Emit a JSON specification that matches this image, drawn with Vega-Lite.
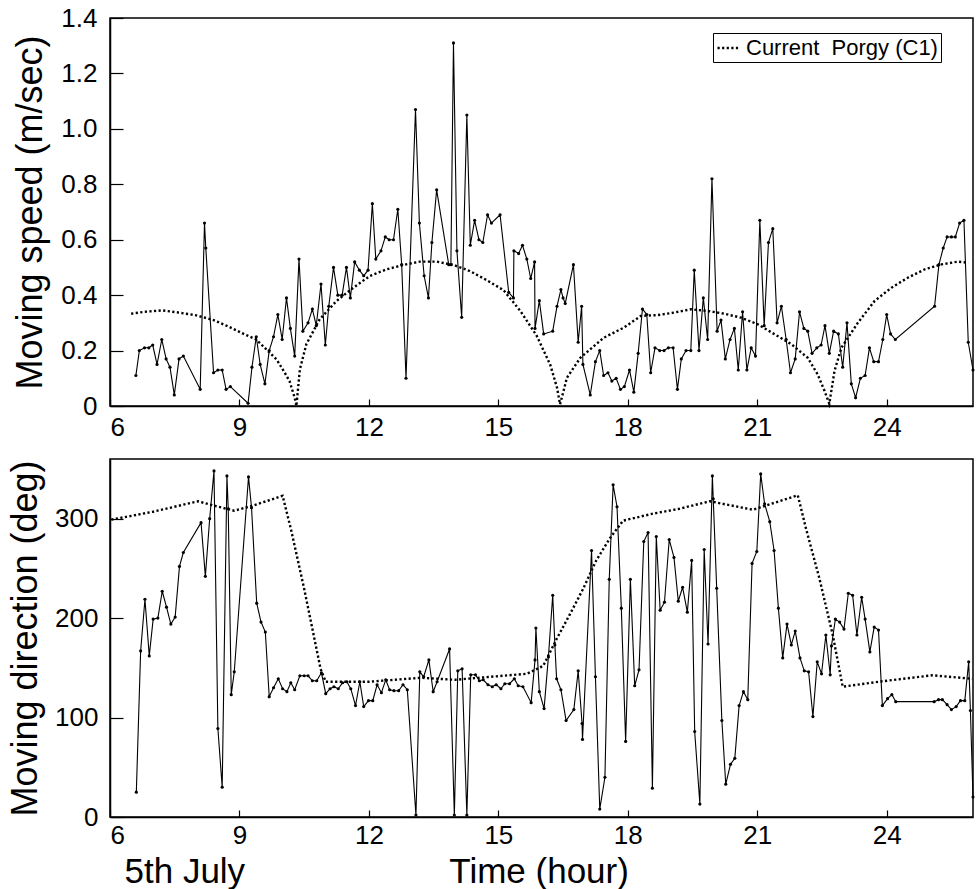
{
  "$schema": "https://vega.github.io/schema/vega-lite/v6.json",
  "background": "white",
  "padding": {"left": 6, "top": 4, "right": 1, "bottom": 0},
  "config": {
    "font": "Liberation Sans",
    "view": {"stroke": "black", "strokeWidth": 1.5},
    "axis": {
      "domainColor": "black", "domainWidth": 1.5,
      "tickColor": "black", "tickWidth": 1.2,
      "labelColor": "black", "titleColor": "black",
      "labelFont": "Liberation Sans", "titleFont": "Liberation Sans",
      "labelFontSize": 26, "titleFontSize": 36, "titleFontWeight": "normal",
      "grid": false
    },
    "legend": {"labelFont": "Liberation Sans"}
  },
  "datasets": {
    "speed": [
      {"t": 6.60, "v": 0.11}, {"t": 6.68, "v": 0.20}, {"t": 6.80, "v": 0.21}, {"t": 6.90, "v": 0.21},
      {"t": 6.99, "v": 0.22}, {"t": 7.09, "v": 0.15}, {"t": 7.20, "v": 0.24}, {"t": 7.30, "v": 0.17},
      {"t": 7.39, "v": 0.14}, {"t": 7.49, "v": 0.04}, {"t": 7.60, "v": 0.17}, {"t": 7.70, "v": 0.18},
      {"t": 8.09, "v": 0.06}, {"t": 8.19, "v": 0.66}, {"t": 8.22, "v": 0.57}, {"t": 8.40, "v": 0.12},
      {"t": 8.50, "v": 0.13}, {"t": 8.60, "v": 0.13}, {"t": 8.69, "v": 0.06}, {"t": 8.79, "v": 0.07},
      {"t": 9.20, "v": 0.01}, {"t": 9.29, "v": 0.14}, {"t": 9.39, "v": 0.25}, {"t": 9.48, "v": 0.15},
      {"t": 9.59, "v": 0.08}, {"t": 9.69, "v": 0.20}, {"t": 9.79, "v": 0.25}, {"t": 9.89, "v": 0.33},
      {"t": 9.99, "v": 0.24}, {"t": 10.09, "v": 0.39}, {"t": 10.18, "v": 0.28}, {"t": 10.28, "v": 0.18},
      {"t": 10.38, "v": 0.53}, {"t": 10.47, "v": 0.27}, {"t": 10.59, "v": 0.30}, {"t": 10.69, "v": 0.35},
      {"t": 10.78, "v": 0.29}, {"t": 10.89, "v": 0.44}, {"t": 10.99, "v": 0.22}, {"t": 11.07, "v": 0.36},
      {"t": 11.18, "v": 0.50}, {"t": 11.28, "v": 0.40}, {"t": 11.38, "v": 0.40}, {"t": 11.48, "v": 0.50},
      {"t": 11.57, "v": 0.39}, {"t": 11.67, "v": 0.52}, {"t": 11.78, "v": 0.49}, {"t": 11.88, "v": 0.47},
      {"t": 11.98, "v": 0.49}, {"t": 12.08, "v": 0.73}, {"t": 12.16, "v": 0.53}, {"t": 12.28, "v": 0.56},
      {"t": 12.38, "v": 0.61}, {"t": 12.47, "v": 0.60}, {"t": 12.57, "v": 0.60}, {"t": 12.67, "v": 0.71},
      {"t": 12.76, "v": 0.51}, {"t": 12.86, "v": 0.10}, {"t": 13.08, "v": 1.07}, {"t": 13.17, "v": 0.66},
      {"t": 13.28, "v": 0.47}, {"t": 13.38, "v": 0.39}, {"t": 13.46, "v": 0.59}, {"t": 13.57, "v": 0.78},
      {"t": 13.85, "v": 0.51}, {"t": 13.90, "v": 0.51}, {"t": 13.96, "v": 1.31}, {"t": 14.04, "v": 0.56},
      {"t": 14.15, "v": 0.32}, {"t": 14.27, "v": 1.05}, {"t": 14.35, "v": 0.58}, {"t": 14.45, "v": 0.67},
      {"t": 14.55, "v": 0.60}, {"t": 14.64, "v": 0.59}, {"t": 14.75, "v": 0.69}, {"t": 14.84, "v": 0.66},
      {"t": 15.04, "v": 0.69}, {"t": 15.24, "v": 0.41}, {"t": 15.35, "v": 0.39}, {"t": 15.36, "v": 0.56},
      {"t": 15.47, "v": 0.55}, {"t": 15.56, "v": 0.58}, {"t": 15.66, "v": 0.53}, {"t": 15.75, "v": 0.46},
      {"t": 15.84, "v": 0.52}, {"t": 15.85, "v": 0.28}, {"t": 15.95, "v": 0.38}, {"t": 16.05, "v": 0.26},
      {"t": 16.26, "v": 0.27}, {"t": 16.36, "v": 0.36}, {"t": 16.45, "v": 0.42}, {"t": 16.50, "v": 0.39},
      {"t": 16.55, "v": 0.37}, {"t": 16.74, "v": 0.51}, {"t": 16.85, "v": 0.23}, {"t": 16.93, "v": 0.36},
      {"t": 16.96, "v": 0.15}, {"t": 17.13, "v": 0.04}, {"t": 17.25, "v": 0.16}, {"t": 17.35, "v": 0.20},
      {"t": 17.44, "v": 0.11}, {"t": 17.54, "v": 0.12}, {"t": 17.63, "v": 0.09}, {"t": 17.73, "v": 0.10},
      {"t": 17.83, "v": 0.06}, {"t": 17.92, "v": 0.07}, {"t": 18.04, "v": 0.13}, {"t": 18.14, "v": 0.05},
      {"t": 18.24, "v": 0.19}, {"t": 18.34, "v": 0.35}, {"t": 18.44, "v": 0.33}, {"t": 18.53, "v": 0.12},
      {"t": 18.63, "v": 0.21}, {"t": 18.74, "v": 0.20}, {"t": 18.84, "v": 0.20}, {"t": 18.94, "v": 0.21},
      {"t": 19.05, "v": 0.21}, {"t": 19.15, "v": 0.06}, {"t": 19.24, "v": 0.17}, {"t": 19.35, "v": 0.20},
      {"t": 19.46, "v": 0.20}, {"t": 19.54, "v": 0.49}, {"t": 19.65, "v": 0.20}, {"t": 19.75, "v": 0.39},
      {"t": 19.85, "v": 0.24}, {"t": 19.95, "v": 0.82}, {"t": 20.07, "v": 0.27}, {"t": 20.16, "v": 0.31},
      {"t": 20.26, "v": 0.17}, {"t": 20.37, "v": 0.24}, {"t": 20.47, "v": 0.28}, {"t": 20.56, "v": 0.13},
      {"t": 20.66, "v": 0.34}, {"t": 20.76, "v": 0.13}, {"t": 20.86, "v": 0.21}, {"t": 20.96, "v": 0.18},
      {"t": 21.06, "v": 0.67}, {"t": 21.16, "v": 0.29}, {"t": 21.26, "v": 0.59}, {"t": 21.36, "v": 0.64},
      {"t": 21.46, "v": 0.30}, {"t": 21.56, "v": 0.36}, {"t": 21.67, "v": 0.24}, {"t": 21.77, "v": 0.12},
      {"t": 21.88, "v": 0.17}, {"t": 21.98, "v": 0.34}, {"t": 22.08, "v": 0.28}, {"t": 22.17, "v": 0.27},
      {"t": 22.27, "v": 0.19}, {"t": 22.38, "v": 0.21}, {"t": 22.48, "v": 0.22}, {"t": 22.57, "v": 0.29},
      {"t": 22.67, "v": 0.19}, {"t": 22.77, "v": 0.27}, {"t": 22.88, "v": 0.26}, {"t": 22.98, "v": 0.14},
      {"t": 23.08, "v": 0.30}, {"t": 23.18, "v": 0.08}, {"t": 23.28, "v": 0.03}, {"t": 23.39, "v": 0.10},
      {"t": 23.50, "v": 0.11}, {"t": 23.60, "v": 0.21}, {"t": 23.70, "v": 0.16}, {"t": 23.81, "v": 0.16},
      {"t": 23.91, "v": 0.24}, {"t": 24.00, "v": 0.33}, {"t": 24.09, "v": 0.26}, {"t": 24.20, "v": 0.24},
      {"t": 25.11, "v": 0.36}, {"t": 25.21, "v": 0.51}, {"t": 25.31, "v": 0.57}, {"t": 25.40, "v": 0.61},
      {"t": 25.50, "v": 0.61}, {"t": 25.59, "v": 0.61}, {"t": 25.69, "v": 0.66}, {"t": 25.79, "v": 0.67},
      {"t": 25.89, "v": 0.23}, {"t": 26.00, "v": 0.13}
    ],
    "current_speed": [
      {"t": 6.49, "c": 0.333}, {"t": 6.8, "c": 0.34}, {"t": 7.22, "c": 0.345}, {"t": 7.6, "c": 0.337},
      {"t": 8.0, "c": 0.327}, {"t": 8.4, "c": 0.31}, {"t": 8.77, "c": 0.285}, {"t": 9.1, "c": 0.26},
      {"t": 9.39, "c": 0.24}, {"t": 9.65, "c": 0.2}, {"t": 9.86, "c": 0.168}, {"t": 10.05, "c": 0.12},
      {"t": 10.16, "c": 0.09}, {"t": 10.28, "c": 0.03}, {"t": 10.32, "c": 0.0}, {"t": 10.4, "c": 0.132},
      {"t": 10.55, "c": 0.223}, {"t": 10.86, "c": 0.313}, {"t": 11.25, "c": 0.379}, {"t": 11.64, "c": 0.427},
      {"t": 12.02, "c": 0.469}, {"t": 12.41, "c": 0.493}, {"t": 12.8, "c": 0.509}, {"t": 13.18, "c": 0.521},
      {"t": 13.57, "c": 0.521}, {"t": 13.96, "c": 0.509}, {"t": 14.34, "c": 0.487}, {"t": 14.73, "c": 0.454},
      {"t": 15.12, "c": 0.418}, {"t": 15.51, "c": 0.343}, {"t": 15.89, "c": 0.253}, {"t": 16.2, "c": 0.15},
      {"t": 16.36, "c": 0.066}, {"t": 16.43, "c": 0.006}, {"t": 16.59, "c": 0.102}, {"t": 16.9, "c": 0.174},
      {"t": 17.44, "c": 0.246}, {"t": 17.91, "c": 0.283}, {"t": 18.3, "c": 0.325}, {"t": 18.69, "c": 0.328},
      {"t": 19.07, "c": 0.337}, {"t": 19.46, "c": 0.349}, {"t": 19.85, "c": 0.343}, {"t": 20.23, "c": 0.333},
      {"t": 20.62, "c": 0.319}, {"t": 21.01, "c": 0.295}, {"t": 21.4, "c": 0.259}, {"t": 21.79, "c": 0.223},
      {"t": 22.17, "c": 0.174}, {"t": 22.4, "c": 0.114}, {"t": 22.56, "c": 0.054}, {"t": 22.67, "c": 0.008},
      {"t": 22.79, "c": 0.126}, {"t": 22.95, "c": 0.21}, {"t": 23.33, "c": 0.3}, {"t": 23.72, "c": 0.379},
      {"t": 24.11, "c": 0.427}, {"t": 24.49, "c": 0.463}, {"t": 24.88, "c": 0.493}, {"t": 25.27, "c": 0.511},
      {"t": 25.65, "c": 0.521}, {"t": 25.89, "c": 0.517}
    ],
    "direction": [
      {"t": 6.61, "d": 25}, {"t": 6.71, "d": 167}, {"t": 6.81, "d": 219}, {"t": 6.91, "d": 162},
      {"t": 7.00, "d": 199}, {"t": 7.11, "d": 200}, {"t": 7.21, "d": 227}, {"t": 7.31, "d": 211},
      {"t": 7.41, "d": 194}, {"t": 7.51, "d": 201}, {"t": 7.61, "d": 252}, {"t": 7.70, "d": 266},
      {"t": 8.11, "d": 296}, {"t": 8.21, "d": 242}, {"t": 8.31, "d": 300}, {"t": 8.41, "d": 348},
      {"t": 8.50, "d": 89}, {"t": 8.60, "d": 30}, {"t": 8.71, "d": 343}, {"t": 8.74, "d": 310},
      {"t": 8.81, "d": 123}, {"t": 8.88, "d": 146}, {"t": 9.21, "d": 342}, {"t": 9.28, "d": 311},
      {"t": 9.40, "d": 215}, {"t": 9.50, "d": 196}, {"t": 9.60, "d": 186}, {"t": 9.69, "d": 121},
      {"t": 9.79, "d": 130}, {"t": 9.90, "d": 139}, {"t": 10.00, "d": 129}, {"t": 10.10, "d": 126},
      {"t": 10.19, "d": 135}, {"t": 10.28, "d": 128}, {"t": 10.40, "d": 142}, {"t": 10.50, "d": 142},
      {"t": 10.59, "d": 142}, {"t": 10.69, "d": 137}, {"t": 10.79, "d": 137}, {"t": 10.90, "d": 145},
      {"t": 11.00, "d": 124}, {"t": 11.10, "d": 129}, {"t": 11.19, "d": 131}, {"t": 11.29, "d": 129},
      {"t": 11.39, "d": 135}, {"t": 11.49, "d": 136}, {"t": 11.58, "d": 129}, {"t": 11.69, "d": 112},
      {"t": 11.79, "d": 136}, {"t": 11.88, "d": 111}, {"t": 11.99, "d": 117}, {"t": 12.09, "d": 117},
      {"t": 12.19, "d": 133}, {"t": 12.29, "d": 125}, {"t": 12.39, "d": 138}, {"t": 12.48, "d": 128},
      {"t": 12.58, "d": 127}, {"t": 12.69, "d": 127}, {"t": 12.79, "d": 133}, {"t": 12.89, "d": 128},
      {"t": 13.09, "d": 2}, {"t": 13.18, "d": 146}, {"t": 13.27, "d": 141}, {"t": 13.39, "d": 158},
      {"t": 13.49, "d": 126}, {"t": 13.58, "d": 136}, {"t": 13.87, "d": 169}, {"t": 13.98, "d": 2},
      {"t": 14.06, "d": 147}, {"t": 14.16, "d": 149}, {"t": 14.27, "d": 2}, {"t": 14.36, "d": 143},
      {"t": 14.47, "d": 143}, {"t": 14.56, "d": 137}, {"t": 14.65, "d": 138}, {"t": 14.76, "d": 133},
      {"t": 14.86, "d": 131}, {"t": 14.95, "d": 133}, {"t": 15.06, "d": 129}, {"t": 15.15, "d": 134},
      {"t": 15.26, "d": 134}, {"t": 15.37, "d": 139}, {"t": 15.46, "d": 132}, {"t": 15.57, "d": 131},
      {"t": 15.76, "d": 115}, {"t": 15.85, "d": 158}, {"t": 15.87, "d": 190}, {"t": 15.95, "d": 126},
      {"t": 16.06, "d": 109}, {"t": 16.16, "d": 161}, {"t": 16.26, "d": 223}, {"t": 16.31, "d": 173},
      {"t": 16.35, "d": 139}, {"t": 16.45, "d": 128}, {"t": 16.57, "d": 97}, {"t": 16.75, "d": 108},
      {"t": 16.85, "d": 147}, {"t": 16.94, "d": 94}, {"t": 16.95, "d": 78}, {"t": 17.16, "d": 268},
      {"t": 17.25, "d": 141}, {"t": 17.35, "d": 8}, {"t": 17.47, "d": 40}, {"t": 17.57, "d": 239},
      {"t": 17.66, "d": 334}, {"t": 17.75, "d": 312}, {"t": 17.85, "d": 210}, {"t": 17.95, "d": 76},
      {"t": 18.06, "d": 239}, {"t": 18.16, "d": 132}, {"t": 18.26, "d": 148}, {"t": 18.37, "d": 277},
      {"t": 18.47, "d": 286}, {"t": 18.57, "d": 29}, {"t": 18.66, "d": 282}, {"t": 18.75, "d": 208},
      {"t": 18.85, "d": 216}, {"t": 18.96, "d": 279}, {"t": 19.07, "d": 261}, {"t": 19.17, "d": 217},
      {"t": 19.27, "d": 231}, {"t": 19.38, "d": 206}, {"t": 19.48, "d": 258}, {"t": 19.55, "d": 86},
      {"t": 19.67, "d": 13}, {"t": 19.77, "d": 269}, {"t": 19.86, "d": 174}, {"t": 19.96, "d": 343},
      {"t": 19.98, "d": 320}, {"t": 20.06, "d": 230}, {"t": 20.18, "d": 97}, {"t": 20.27, "d": 33},
      {"t": 20.38, "d": 53}, {"t": 20.48, "d": 59}, {"t": 20.58, "d": 112}, {"t": 20.68, "d": 126},
      {"t": 20.78, "d": 118}, {"t": 20.88, "d": 255}, {"t": 20.99, "d": 267}, {"t": 21.08, "d": 345},
      {"t": 21.17, "d": 315}, {"t": 21.29, "d": 297}, {"t": 21.39, "d": 268}, {"t": 21.49, "d": 210},
      {"t": 21.59, "d": 160}, {"t": 21.69, "d": 194}, {"t": 21.79, "d": 173}, {"t": 21.88, "d": 187},
      {"t": 21.99, "d": 160}, {"t": 22.09, "d": 147}, {"t": 22.19, "d": 146}, {"t": 22.29, "d": 101},
      {"t": 22.39, "d": 156}, {"t": 22.49, "d": 144}, {"t": 22.59, "d": 183}, {"t": 22.69, "d": 143},
      {"t": 22.72, "d": 172}, {"t": 22.81, "d": 199}, {"t": 22.91, "d": 196}, {"t": 23.01, "d": 189},
      {"t": 23.11, "d": 225}, {"t": 23.21, "d": 223}, {"t": 23.31, "d": 183}, {"t": 23.42, "d": 221},
      {"t": 23.50, "d": 199}, {"t": 23.61, "d": 166}, {"t": 23.71, "d": 191}, {"t": 23.81, "d": 188},
      {"t": 23.90, "d": 112}, {"t": 24.02, "d": 119}, {"t": 24.12, "d": 123}, {"t": 24.21, "d": 116},
      {"t": 25.10, "d": 116}, {"t": 25.20, "d": 118}, {"t": 25.29, "d": 118}, {"t": 25.40, "d": 113},
      {"t": 25.50, "d": 108}, {"t": 25.61, "d": 111}, {"t": 25.71, "d": 117}, {"t": 25.81, "d": 117},
      {"t": 25.90, "d": 156}, {"t": 25.94, "d": 107}, {"t": 26.00, "d": 20}
    ],
    "current_direction": [
      {"t": 6.03, "cd": 299}, {"t": 7.0, "cd": 307}, {"t": 8.04, "cd": 317.5}, {"t": 8.42, "cd": 313},
      {"t": 8.88, "cd": 308}, {"t": 9.34, "cd": 313.5}, {"t": 10.0, "cd": 323}, {"t": 10.19, "cd": 290},
      {"t": 10.5, "cd": 229.5}, {"t": 10.88, "cd": 149}, {"t": 11.0, "cd": 136}, {"t": 12.0, "cd": 136},
      {"t": 13.2, "cd": 140}, {"t": 14.0, "cd": 138}, {"t": 15.1, "cd": 142}, {"t": 15.66, "cd": 144},
      {"t": 16.04, "cd": 152}, {"t": 16.35, "cd": 179}, {"t": 16.66, "cd": 204}, {"t": 16.96, "cd": 229},
      {"t": 17.27, "cd": 258}, {"t": 17.58, "cd": 280}, {"t": 17.89, "cd": 298}, {"t": 18.58, "cd": 305},
      {"t": 19.2, "cd": 310}, {"t": 19.9, "cd": 317.5}, {"t": 20.9, "cd": 309}, {"t": 21.94, "cd": 323.5},
      {"t": 22.13, "cd": 290}, {"t": 22.44, "cd": 240}, {"t": 22.75, "cd": 183}, {"t": 22.98, "cd": 131},
      {"t": 23.9, "cd": 136.5}, {"t": 25.06, "cd": 142.5}, {"t": 25.98, "cd": 139}
    ]
  },
  "spacing": 17,
  "vconcat": [
    {
      "width": 863,
      "height": 388,
      "layer": [
        {
          "data": {"name": "current_speed"},
          "mark": {"type": "line", "color": "black", "strokeWidth": 2.4},
          "encoding": {
            "x": {"field": "t", "type": "quantitative",
              "scale": {"domain": [6, 26], "nice": false, "zero": false},
              "axis": {"values": [6, 9, 12, 15, 18, 21, 24], "title": null, "tickSize": -7, "labelPadding": 15, "format": "d"}},
            "y": {"field": "c", "type": "quantitative",
              "scale": {"domain": [0, 1.4], "nice": false},
              "axis": {"values": [0, 0.2, 0.4, 0.6, 0.8, 1.0, 1.2, 1.4], "title": "Moving speed (m/sec)",
                "tickSize": -13, "labelPadding": 26, "titlePadding": 11,
                "labelExpr": "datum.value == 0 ? '0' : format(datum.value, '.1f')"}},
            "strokeDash": {"datum": "Current\u00a0\u00a0Porgy (C1)",
              "scale": {"range": [[2.2, 2.4]]},
              "legend": {"orient": "none", "legendX": 603, "legendY": 15, "title": null, "symbolType": "stroke",
                "symbolStrokeWidth": 2.4, "symbolStrokeColor": "black", "symbolSize": 441,
                "labelFontSize": 22, "labelColor": "black", "labelLimit": 0,
                "strokeColor": "black", "fillColor": "white",
                "padding": 3, "labelOffset": 6}}
          }
        },
        {
          "data": {"name": "speed"},
          "mark": {"type": "line", "color": "black", "strokeWidth": 1.1,
            "point": {"filled": true, "size": 10, "color": "black"}},
          "encoding": {
            "x": {"field": "t", "type": "quantitative"},
            "y": {"field": "v", "type": "quantitative"}
          }
        }
      ]
    },
    {
      "width": 863,
      "height": 358,
      "layer": [
        {
          "data": {"name": "current_direction"},
          "mark": {"type": "line", "color": "black", "strokeWidth": 2.4, "strokeDash": [2.2, 2.4]},
          "encoding": {
            "x": {"field": "t", "type": "quantitative",
              "scale": {"domain": [6, 26], "nice": false, "zero": false},
              "axis": {"values": [6, 9, 12, 15, 18, 21, 24], "tickSize": -7, "labelPadding": 12, "format": "d",
                "title": "5th July\u00a0\u00a0\u00a0\u00a0\u00a0\u00a0\u00a0\u00a0\u00a0\u00a0\u00a0\u00a0\u00a0\u00a0\u00a0\u00a0\u00a0\u00a0\u00a0\u00a0\u00a0Time (hour)",
                "titleFontSize": 35, "titleAnchor": "start", "titleAlign": "left", "titleX": 14, "titlePadding": 6}},
            "y": {"field": "cd", "type": "quantitative",
              "scale": {"domain": [0, 360], "nice": false},
              "axis": {"values": [0, 100, 200, 300], "title": "Moving direction (deg)",
                "tickSize": -13, "labelPadding": 25, "titlePadding": 10}}
          }
        },
        {
          "data": {"name": "direction"},
          "mark": {"type": "line", "color": "black", "strokeWidth": 1.1,
            "point": {"filled": true, "size": 10, "color": "black"}},
          "encoding": {
            "x": {"field": "t", "type": "quantitative"},
            "y": {"field": "d", "type": "quantitative"}
          }
        }
      ]
    }
  ]
}
